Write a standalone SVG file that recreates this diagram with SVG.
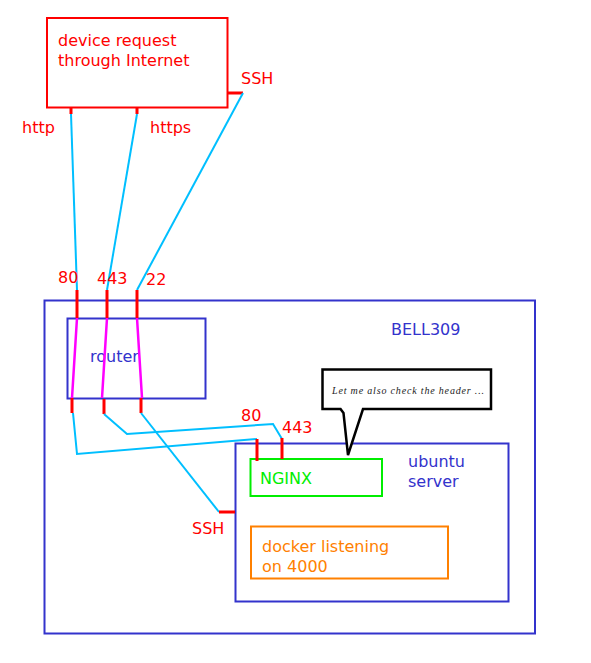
<svg xmlns="http://www.w3.org/2000/svg" width="591" height="663" viewBox="0 0 591 663">
<style>
text{font-family:"DejaVu Sans",Verdana,sans-serif;font-size:16px}
.red{fill:#ff0000}
.blue{fill:#3333cc}
.box{fill:none;stroke-width:2}
.stub{stroke:#ff0000;stroke-width:3;fill:none}
.wire{stroke:#00bfff;stroke-width:2;fill:none}
.mag{stroke:#ff00ff;stroke-width:2.5;fill:none}
</style>
<rect width="591" height="663" fill="#ffffff"/>
<g id="bell309">
<rect class="box" x="44.5" y="300.5" width="490.5" height="333" stroke="#3333cc"/>
<text class="blue" x="391" y="335">BELL309</text>
</g>
<g id="device">
<rect class="box" x="47" y="18" width="180.5" height="89.5" stroke="#ff0000"/>
<text class="red" x="58" y="46">device request</text>
<text class="red" x="58" y="66">through Internet</text>
</g>
<g id="router">
<rect class="box" x="67.5" y="318.5" width="138" height="80" stroke="#3333cc"/>
<text class="blue" x="90" y="362">router</text>
</g>
<g id="ubuntu">
<rect class="box" x="235.5" y="443.5" width="273" height="158" stroke="#3333cc"/>
<text class="blue" x="408" y="467">ubuntu</text>
<text class="blue" x="408" y="487">server</text>
</g>
<g id="nginx">
<rect class="box" x="250.5" y="459" width="131.5" height="37" stroke="#00ee00"/>
<text x="260" y="484" fill="#00ee00">NGINX</text>
</g>
<g id="docker">
<rect class="box" x="251" y="526.5" width="197" height="52" stroke="#ff8000"/>
<text x="262" y="552" fill="#ff8000">docker listening</text>
<text x="262" y="572" fill="#ff8000">on 4000</text>
</g>
<g id="callout">
<path d="M322.5 369.5 H491 V409 H363 L348 455 L343.5 413 L340.5 409 H322.5 Z" fill="#ffffff" stroke="#000000" stroke-width="2.5" stroke-linejoin="miter"/>
<text x="332" y="394" style="font-family:'Liberation Serif','DejaVu Serif',serif;font-style:italic;font-size:10px" textLength="152" fill="#222222">Let me also check the header ...</text>
</g>
<g id="connectors">
<path class="stub" d="M228 93 H243"/>
<path class="stub" d="M71 107 V114"/>
<path class="stub" d="M137 107 V114"/>
<path class="wire" d="M71 114 L77 290"/>
<path class="wire" d="M137 114 L107 290"/>
<path class="wire" d="M243 93 L137 290"/>
<path class="stub" d="M77 290 V318"/>
<path class="stub" d="M107 290 V318"/>
<path class="stub" d="M137 290 V318"/>
<path class="mag" d="M77 318 L72 398"/>
<path class="mag" d="M107 318 L102 398"/>
<path class="mag" d="M137 318 L142 398"/>
<path class="stub" d="M72 398 V413"/>
<path class="stub" d="M104 399 V414" stroke-width="4"/>
<path class="stub" d="M141 398 V413"/>
<path class="wire" d="M73 413 L77 454 L257 439"/>
<path class="wire" d="M104 414 L127 434 L273 424 L282 439"/>
<path class="wire" d="M141 413 L219 512"/>
<path class="stub" d="M219 512 H235"/>
<path class="stub" d="M257 439 V461" stroke-width="3.5"/>
<path class="stub" d="M282 438 V459"/>
</g>
<g id="labels">
<text class="red" x="241" y="84">SSH</text>
<text class="red" x="22" y="133">http</text>
<text class="red" x="150" y="133">https</text>
<text class="red" x="58" y="283">80</text>
<text class="red" x="97" y="284">443</text>
<text class="red" x="146" y="285">22</text>
<text class="red" x="241" y="421">80</text>
<text class="red" x="282" y="433">443</text>
<text class="red" x="192" y="534">SSH</text>
</g>
</svg>
